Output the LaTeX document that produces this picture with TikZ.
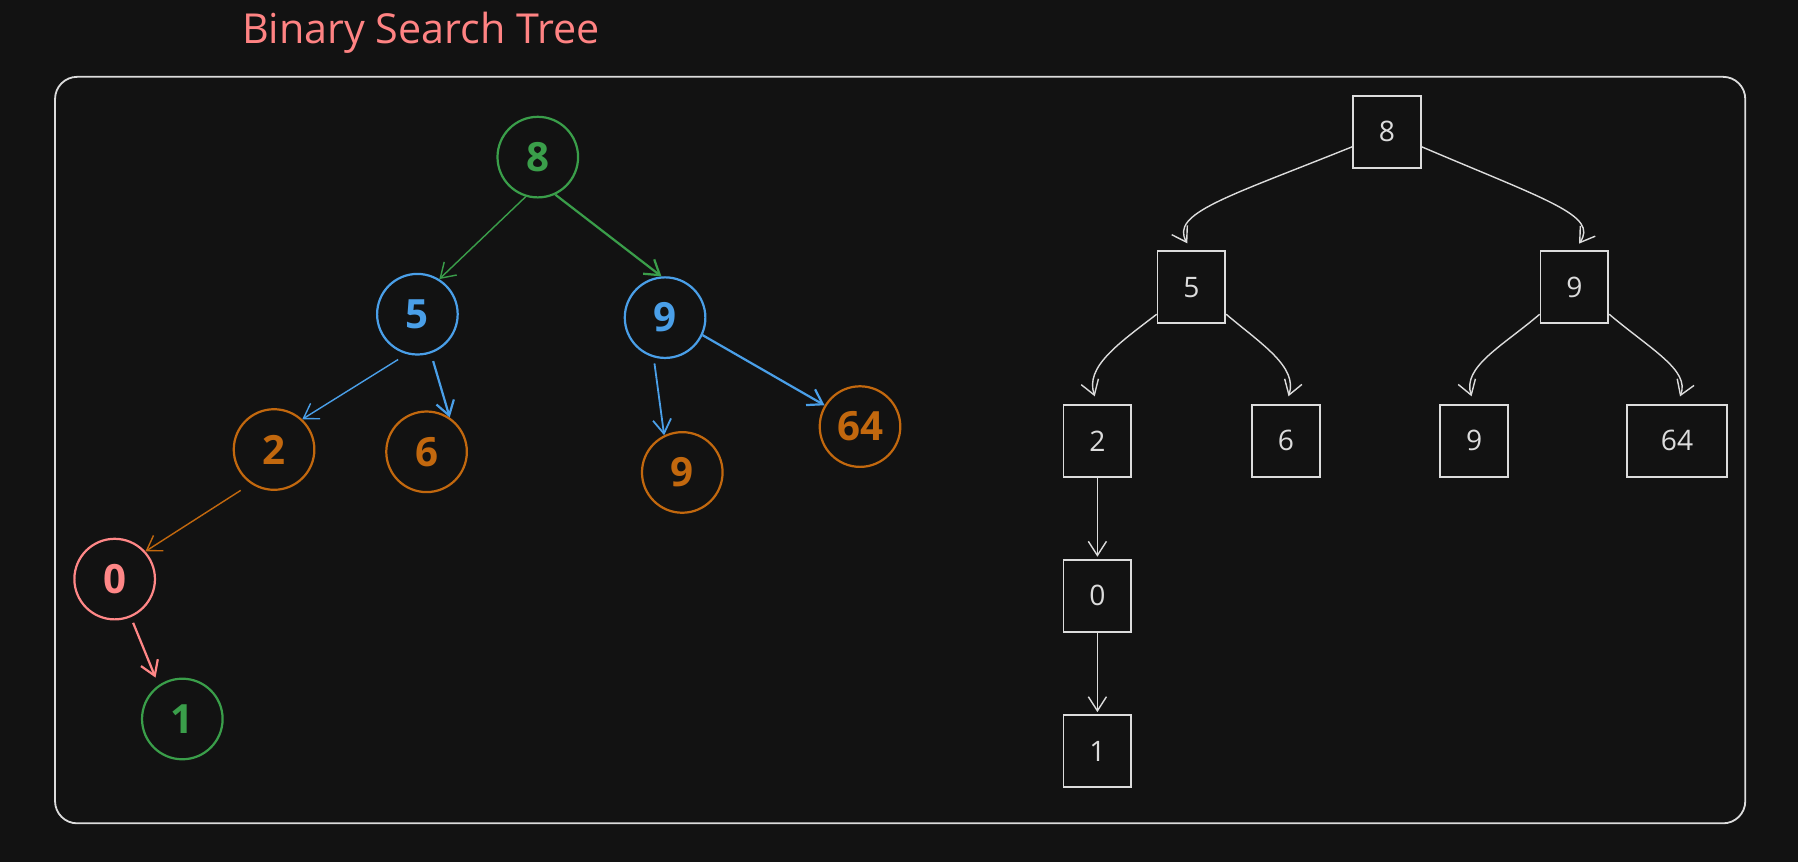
\documentclass[tikz,border=0pt]{standalone}
\usepackage{fontspec}
\setmainfont{Open Sans}
\usetikzlibrary{arrows.meta}
\definecolor{bg}{HTML}{121212}
\definecolor{cgreen}{HTML}{3A9E4A}
\definecolor{cblue}{HTML}{4A9FE8}
\definecolor{corange}{HTML}{C2680E}
\definecolor{cpink}{HTML}{FF8787}
\definecolor{ctitle}{HTML}{FF8383}
\definecolor{cgray}{HTML}{DCDCDC}
\begin{document}
\begin{tikzpicture}[x=0.02cm,y=-0.02cm,
  circ/.style={circle, draw=#1, text=#1, line width=1.1pt, minimum size=40pt, inner sep=0pt, font=\fontsize{20}{24}\selectfont\bfseries},
  sq/.style={rectangle, draw=cgray, text=cgray, line width=0.9pt, minimum width=33.6pt, minimum height=35.8pt, inner sep=0pt, font=\fontsize{14}{17}\selectfont},
  arr/.style={draw=#1, -{Straight Barb[length=7pt,width=9pt]}},
  garr/.style={draw=cgray, line width=0.7pt, -{Straight Barb[length=7pt,width=9pt]}},
]
\fill[bg] (0,0) rectangle (1568,752);
\useasboundingbox (0,0) rectangle (1568,752);

% title
\node[text=ctitle, font=\fontsize{20.5}{24}\selectfont] (title) at (367,29) {Binary Search Tree};

% frame
\draw[cgray, line width=0.9pt, rounded corners=11pt] (48,67) rectangle (1522,718);

% left tree
\node[circ=cgreen]  (c8)  at (469,137) {8};
\node[circ=cblue]   (c5)  at (364,274) {5};
\node[circ=cblue]   (c9)  at (580,277) {9};
\node[circ=corange] (c2)  at (239,392) {2};
\node[circ=corange] (c6)  at (372,394) {6};
\node[circ=corange] (c9b) at (595,412) {9};
\node[circ=corange] (c64) at (750,372) {64};
\node[circ=cpink]   (c0)  at (100,505) {0};
\node[circ=cgreen]  (c1)  at (159,627) {1};

\draw[arr=cgreen, line width=0.7pt] (c8.-107) -- (c5.58);
\draw[arr=cgreen, line width=1.1pt] (c8.-65) -- (c9.95);
\draw[arr=cblue, line width=0.7pt, shorten <=5pt] (c5.-105) -- (c2.47);
\draw[arr=cblue, line width=1.1pt, shorten <=4pt] (c5.-71) -- (c6.56);
\draw[arr=cblue, line width=0.9pt, shorten <=3pt] (c9.-106) -- (c9b.116);
\draw[arr=cblue, line width=1.1pt] (c9.-25) -- (c64.149);
\draw[arr=corange, line width=0.7pt, shorten <=6pt] (c2.-124) -- (c0.42);
\draw[arr=cpink, line width=1.1pt, shorten <=3pt, shorten >=4pt] (c0.-67) -- (c1.125);

% right tree
\node[sq] (b8)  at (1209.5,115) {8};
\node[sq] (b5)  at (1039,250.5) {5};
\node[sq] (b9)  at (1373,250.5) {9};
\node[sq] (b2)  at (957,384.5) {2};
\node[sq] (b6)  at (1121.5,384.5) {6};
\node[sq] (b9b) at (1285.5,384.5) {9};
\node[sq, minimum width=49.5pt] (b64) at (1462.5,384.5) {64};
\node[sq] (b0)  at (957,519.5) {0};
\node[sq] (b1)  at (957,655) {1};

\draw[garr, shorten >=4pt] ([yshift=-7.4pt]b8.west) .. controls (1070,172) and (1020,186) .. (b5.north);
\draw[garr, shorten >=4pt] ([yshift=-7.4pt]b8.east) .. controls (1350,175) and (1394,188) .. (b9.north);
\draw[garr, shorten >=4pt] ([yshift=-13.4pt]b5.west) .. controls (975,300) and (946,320) .. (b2.north);
\draw[garr, shorten >=4pt] ([yshift=-13.4pt]b5.east) .. controls (1100,300) and (1132,320) .. (b6.north);
\draw[garr, shorten >=4pt] ([yshift=-13.4pt]b9.west) .. controls (1310,302) and (1275,320) .. (b9b.north);
\draw[garr, shorten >=4pt] ([yshift=-13.4pt]b9.east) .. controls (1440,305) and (1474,323) .. (b64.north);
\draw[garr, shorten >=1pt] (b2.south) -- (b0.north);
\draw[garr, shorten >=1pt] (b0.south) -- (b1.north);
\end{tikzpicture}
\end{document}
